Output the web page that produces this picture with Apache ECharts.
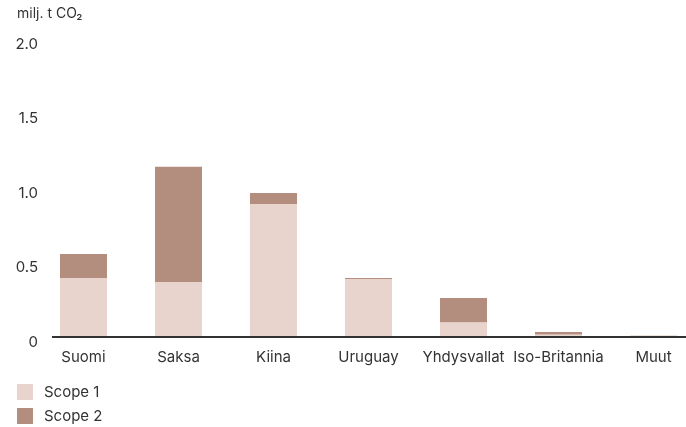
<!DOCTYPE html>
<html>
<head>
<meta charset="utf-8">
<script src="https://cdn.jsdelivr.net/npm/echarts@6/dist/echarts.min.js"></script>
<style>html,body{margin:0;padding:0;background:#fff}#c{width:686px;height:427px}</style>
</head>
<body>
<div id="c"></div>
<script>
const categories = ['Suomi', 'Saksa', 'Kiina', 'Uruguay', 'Yhdysvallat', 'Iso-Britannia', 'Muut'];
const scope1 = [0.397, 0.37, 0.894, 0.39, 0.10, 0.016, 0.004];
const scope2 = [0.161, 0.775, 0.074, 0.007, 0.162, 0.018, 0.004];
const yTicks = [0, 0.5, 1.0, 1.5, 2.0];
const unitLabel = 'milj. t CO₂';

const FONT = 'Inter, "Noto Sans", sans-serif';
const chart = echarts.init(document.getElementById('c'));
chart.setOption({
  animation: false,
  textStyle: { fontFamily: FONT },
  title: {
    text: unitLabel, left: 17, top: 7, padding: 0,
    textStyle: { fontFamily: FONT, fontSize: 14, fontWeight: 'normal', color: '#333' }
  },
  legend: {
    orient: 'vertical', left: 17, top: 384, padding: 0, itemWidth: 16, itemHeight: 16, itemGap: 8,
    icon: 'rect',
    textStyle: { fontFamily: FONT, fontSize: 15, color: '#333', padding: [0, 0, 0, 6] },
    data: ['Scope 1', 'Scope 2']
  },
  grid: { left: 36, right: -15, top: 39.5, bottom: 90, containLabel: false, outerBoundsMode: 'none' },
  xAxis: {
    type: 'category', data: categories,
    axisLine: { show: false }, axisTick: { show: false },
    axisLabel: { interval: 0, margin: 13, fontSize: 15, color: '#333', fontFamily: FONT }
  },
  yAxis: {
    type: 'value', min: yTicks[0], max: yTicks[yTicks.length - 1], interval: 0.5,
    splitLine: { show: false }, axisLine: { show: false }, axisTick: { show: false },
    axisLabel: {
      margin: -2, fontSize: 15, color: '#333', fontFamily: FONT, verticalAlign: 'top', lineHeight: 10,
      formatter: v => v === 0 ? '0' : v.toFixed(1)
    }
  },
  series: [
    { name: 'Scope 1', type: 'bar', stack: 's', data: scope1, barWidth: 47,
      itemStyle: { color: '#e8d4cc' } },
    { name: 'Scope 2', type: 'bar', stack: 's', data: scope2, barWidth: 47,
      itemStyle: { color: '#b38d7e' } }
  ],
  graphic: [{
    type: 'line', z: 100,
    shape: { x1: 52, y1: 337, x2: 686, y2: 337 },
    style: { stroke: '#333', lineWidth: 2 }
  }]
});
</script>
</body>
</html>
